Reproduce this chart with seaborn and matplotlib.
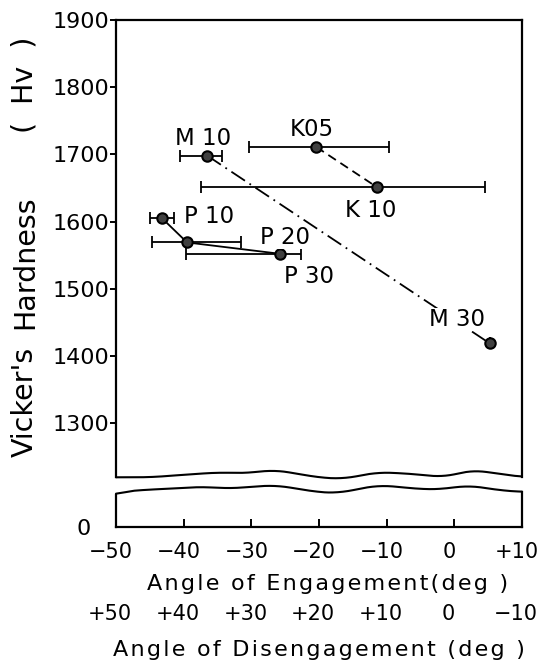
import matplotlib
matplotlib.use('Agg')
import matplotlib.pyplot as plt
import matplotlib.transforms as mtransforms
import numpy as np
import pandas as pd
import seaborn as sns

# tool grades
series = ['P', 'P', 'P', 'M', 'M', 'K', 'K']
grades = ['P 10', 'P 20', 'P 30', 'M 10', 'M 30', 'K05', 'K 10']
angle = [-43.2, -39.5, -25.7, -36.5, 5.2, -20.4, -11.4]
hardness = [1605, 1569, 1552, 1698, 1419, 1711, 1651]
err_minus = [1.8, 5.2, 14.0, 4.0, 0.0, 9.9, 26.1]
err_plus = [1.8, 7.9, 3.0, 2.2, 0.0, 10.8, 15.9]

hv_ticks = [1300, 1400, 1500, 1600, 1700, 1800, 1900]
eng_ticks = [-50, -40, -30, -20, -10, 0, 10]
eng_labels = ['\u221250', '\u221240', '\u221230', '\u221220', '\u221210', '0', '+10']
dis_ticks = [50, 40, 30, 20, 10, 0, -10]
dis_labels = ['+50', '+40', '+30', '+20', '+10', '0', '\u221210']

# where the grade names sit, in data coords
label_pos = [(-36.2, 1607), (-25.0, 1577), (-21.5, 1518), (-37.2, 1723),
             (0.4, 1454), (-21.0, 1737), (-12.3, 1617)]

# hand-drawn axis break (decoration only)
brk_up_x = [-50, -44.9, -39.8, -34.7, -30.6, -27, -23.4, -20.4, -16.3, -11.7, -8.1, -4, -1.5, 2.6, 6.7, 10]
brk_up_y = [1219.5, 1219.5, 1223.4, 1226.8, 1225.4, 1230.7, 1225.4, 1219.5, 1217, 1226.8, 1225.9,
            1222.4, 1219.5, 1230.7, 1224.4, 1220]
brk_lo_x = [-50, -49.5, -46.9, -36.7, -33.7, -26.5, -20.4, -17.3, -11.2, -4.6, -2, 2.1, 6.7, 10]
brk_lo_y = [47, 52, 54.6, 60, 57, 62.4, 52.2, 50.2, 62.4, 56.1, 56.1, 62, 54.6, 52.2]


def smooth_wave(xs, ys):
    gx = np.linspace(xs[0], xs[-1], 400)
    gy = np.interp(gx, xs, ys)
    k = 15
    pad = np.pad(gy, k, mode='edge')
    gy = np.convolve(pad, np.ones(2 * k + 1) / (2 * k + 1), mode='same')[k:-k]
    return gx, gy


def spaced(s):
    # the lettering on the original is letter-spaced
    return '\u200a'.join(s)


def nudge_labels(labels, dx_px):
    off = mtransforms.ScaledTranslation(dx_px / 100, 0, fig.dpi_scale_trans)
    for lab in labels:
        lab.set_transform(lab.get_transform() + off)


sns.set_style('ticks')
plt.rcParams['font.family'] = ['DejaVu Sans']
plt.rcParams['text.color'] = 'black'
plt.rcParams['axes.labelcolor'] = 'black'
plt.rcParams['xtick.color'] = 'black'
plt.rcParams['ytick.color'] = 'black'

W, H = 540, 671
fig = plt.figure(figsize=(W / 100, H / 100), dpi=100)

px = 0.672  # pixels per Hv unit
left, right = 116, 522
up_top, up_bot = 20, 495
lo_top, lo_bot = 480, 527

ax = fig.add_axes([left / W, 1 - up_bot / H, (right - left) / W, (up_bot - up_top) / H])
ax_lo = fig.add_axes([left / W, 1 - lo_bot / H, (right - left) / W, (lo_bot - lo_top) / H])
for a in (ax, ax_lo):
    a.patch.set_alpha(0)
    for s in a.spines.values():
        s.set_linewidth(1.6)
        s.set_color('black')

df = pd.DataFrame({'series': series, 'grade': grades, 'angle': angle, 'hv': hardness})

ax.errorbar(angle, hardness, xerr=[err_minus, err_plus], fmt='none', ecolor='black',
            elinewidth=1.3, capsize=4, capthick=1.3, zorder=2)
sns.lineplot(data=df, x='angle', y='hv', hue='series', style='series',
             palette={'P': 'black', 'M': 'black', 'K': 'black'},
             dashes={'P': '', 'M': (9, 3, 1, 3), 'K': (5, 3)},
             markers={'P': 'o', 'M': 'o', 'K': 'o'},
             sort=False, estimator=None, legend=False, ax=ax,
             lw=1.3, ms=7.5, mfc='0.25', mec='black', mew=1.5, zorder=3)

for name, (tx, ty) in zip(grades, label_pos):
    ax.text(tx, ty, name, fontsize=16.5, ha='center', va='center', zorder=4,
            bbox=dict(facecolor='white', edgecolor='none', pad=0))

ax.set_xlim(-50, 10)
ax.set_ylim(1900 - (up_bot - up_top) / px, 1900)
ax.set_yticks(hv_ticks)
ax.set_xticks([])
ax.tick_params(axis='y', direction='out', length=4, width=1.4, labelsize=16, pad=1)
ax.spines['bottom'].set_visible(False)
ax.spines['left'].set_bounds(brk_up_y[0], 1900)
ax.spines['right'].set_bounds(brk_up_y[-1], 1900)
wx, wy = smooth_wave(brk_up_x, brk_up_y)
ax.plot(wx, wy, color='black', lw=1.5, clip_on=False)
ax.set_xlabel('')
ax.set_ylabel('')

ax_lo.set_xlim(-50, 10)
ax_lo.set_ylim(0, (lo_bot - lo_top) / px)
ax_lo.set_yticks([0])
ax_lo.set_xticks(eng_ticks, labels=eng_labels)
ax_lo.tick_params(axis='x', direction='in', length=6, width=1.4, labelsize=15, pad=11)
ax_lo.tick_params(axis='y', length=0, labelsize=16, pad=18)
ax_lo.spines['top'].set_visible(False)
ax_lo.spines['left'].set_bounds(0, brk_lo_y[0])
ax_lo.spines['right'].set_bounds(0, brk_lo_y[-1])
wx, wy = smooth_wave(brk_lo_x, brk_lo_y)
ax_lo.plot(wx, wy, color='black', lw=1.5, clip_on=False)
ax_lo.set_xlabel(spaced('Angle of Engagement(deg )'), fontsize=16)
ax_lo.xaxis.set_label_coords(0.52, -1.0)
nudge_labels(ax_lo.get_xticklabels(), -5)

sec = ax_lo.secondary_xaxis(-1.57, functions=(lambda x: -x, lambda x: -x))
sec.set_xticks(dis_ticks, labels=dis_labels)
sec.tick_params(axis='x', length=0, labelsize=15, pad=2)
sec.spines['bottom'].set_visible(False)
sec.set_xlabel(spaced('Angle of Disengagement (deg )'), fontsize=16, labelpad=12)
nudge_labels(sec.get_xticklabels(), -6)

# y label, three word groups placed as on the original
for word, yc in [('(  Hv  )', 85), ('Hardness', 262), ("Vicker's", 402)]:
    fig.text(25 / W, 1 - yc / H, word, rotation=90, fontsize=20.5, ha='center', va='center')

fig.savefig('out.png', dpi=100)
